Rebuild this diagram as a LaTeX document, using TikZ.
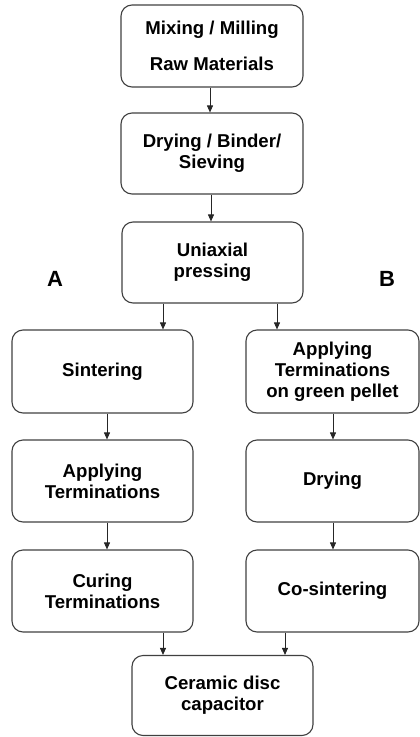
\documentclass[tikz,border=0pt]{standalone}
\usepackage{fontspec}
\setmainfont{Liberation Sans}
\usetikzlibrary{arrows.meta}
\begin{document}
\begin{tikzpicture}[x=1pt,y=-1pt,
  stepbox/.style={draw=black!75, line width=1.1pt, rounded corners=11pt, align=center,
    font=\fontsize{18.6}{21}\selectfont\bfseries, inner sep=0pt},
  conn/.style={draw=black!85, line width=0.9pt, -{Triangle[length=7pt,width=6pt]}},
  lab/.style={font=\fontsize{22}{26}\selectfont\bfseries}]
\useasboundingbox (0,0) rectangle (420,737);
\node[stepbox, minimum width=182pt, minimum height=82pt] (mix) at (212,46) {Mixing / Milling\\[15pt]Raw Materials};
\node[stepbox, minimum width=182pt, minimum height=81pt] (dry) at (212,153.5) {Drying / Binder/\\Sieving};
\node[stepbox, minimum width=181pt, minimum height=81pt] (uni) at (212.5,262.5) {Uniaxial\\pressing};
\node[lab] (A) at (55,279) {A};
\node[lab] (B) at (387,279) {B};
\node[stepbox, minimum width=181pt, minimum height=83pt] (sin) at (102.5,371.5) {Sintering};
\node[stepbox, minimum width=173pt, minimum height=83pt] (agp) at (332.5,371.5) {Applying\\Terminations\\on green pellet};
\node[stepbox, minimum width=181pt, minimum height=82pt] (app) at (102.5,481) {Applying\\Terminations};
\node[stepbox, minimum width=173pt, minimum height=82pt] (drg) at (332.5,481) {Drying};
\node[stepbox, minimum width=181pt, minimum height=82pt] (cur) at (102.5,591) {Curing\\Terminations};
\node[stepbox, minimum width=173pt, minimum height=82pt] (cos) at (332.5,591) {Co-sintering};
\node[stepbox, minimum width=181pt, minimum height=80pt] (cer) at (222.5,695.5) {Ceramic disc\\capacitor};
\draw[conn] (mix.south -| 210,0) -- (dry.north -| 210,0);
\draw[conn] (dry.south -| 211,0) -- (uni.north -| 211,0);
\draw[conn] (uni.south -| 163,0) -- (sin.north -| 163,0);
\draw[conn] (uni.south -| 277,0) -- (agp.north -| 277,0);
\draw[conn] (sin.south -| 107,0) -- (app.north -| 107,0);
\draw[conn] (app.south -| 107,0) -- (cur.north -| 107,0);
\draw[conn] (agp.south -| 333,0) -- (drg.north -| 333,0);
\draw[conn] (drg.south -| 333,0) -- (cos.north -| 333,0);
\draw[conn] (cur.south -| 163,0) -- (cer.north -| 163,0);
\draw[conn] (cos.south -| 285,0) -- (cer.north -| 285,0);
\end{tikzpicture}
\end{document}
